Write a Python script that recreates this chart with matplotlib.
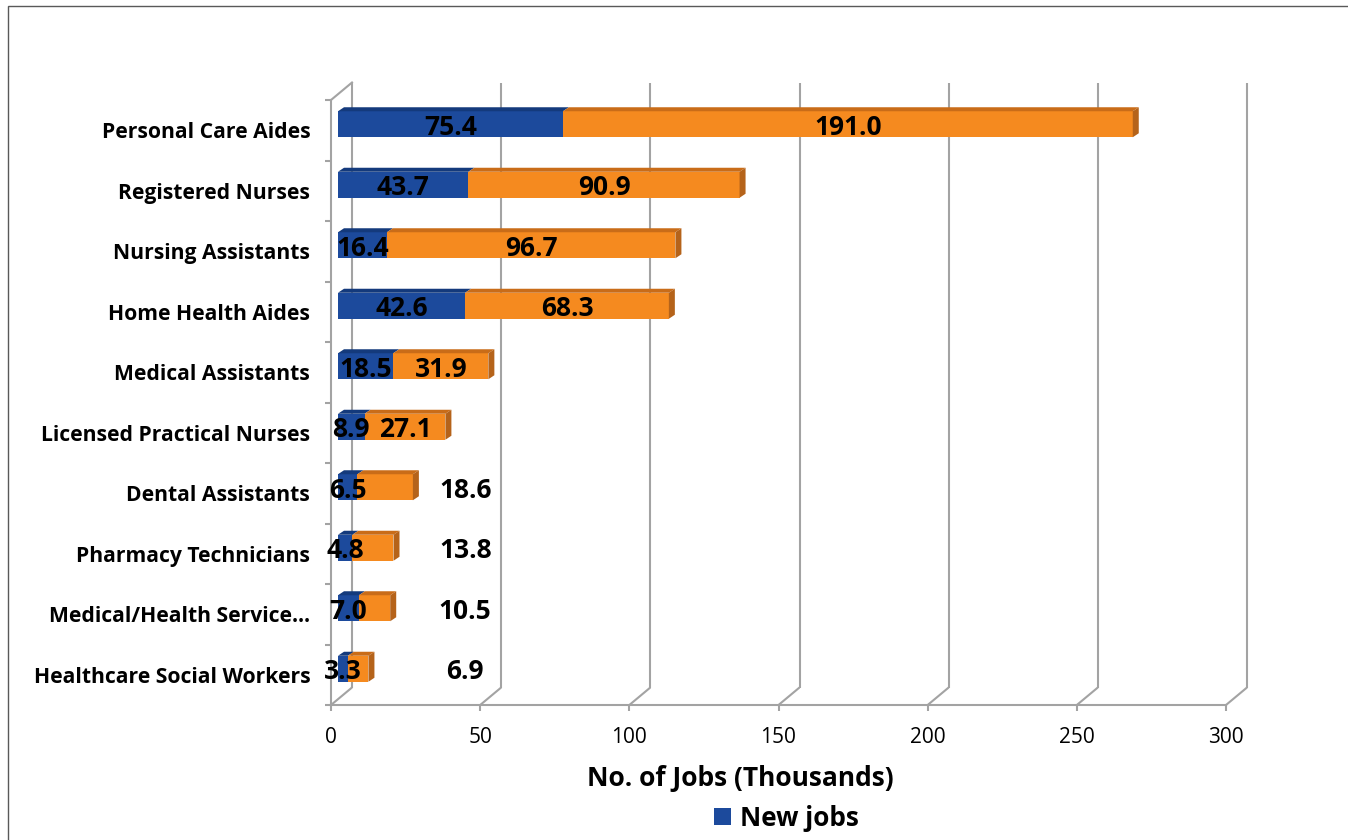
import matplotlib
matplotlib.use("Agg")
import matplotlib.pyplot as plt
from matplotlib.patches import Polygon, Rectangle

# ---------------------------------------------------------------------------
# Data
# ---------------------------------------------------------------------------
categories = [
    "Personal Care Aides",
    "Registered Nurses",
    "Nursing Assistants",
    "Home Health Aides",
    "Medical Assistants",
    "Licensed Practical Nurses",
    "Dental Assistants",
    "Pharmacy Technicians",
    "Medical/Health Service\u2026",
    "Healthcare Social Workers",
]
new_jobs = [75.4, 43.7, 16.4, 42.6, 18.5, 8.9, 6.5, 4.8, 7.0, 3.3]
other_jobs = [191.0, 90.9, 96.7, 68.3, 31.9, 27.1, 18.6, 13.8, 10.5, 6.9]
x_ticks = [0, 50, 100, 150, 200, 250, 300]

# ---------------------------------------------------------------------------
# Style
# ---------------------------------------------------------------------------
W, H = 1348, 840
FONT = "Open Sans"
BLUE, BLUE_TOP = "#1C4A9C", "#143A7C"
ORANGE, ORANGE_TOP, ORANGE_SIDE = "#F58A1F", "#C96C18", "#B5631A"
GRID = "#A3A3A3"

plt.rcParams["font.family"] = [FONT, "DejaVu Sans"]

fig = plt.figure(figsize=(W / 100, H / 100), dpi=100)
ax = fig.add_axes([331 / W, 1 - 705 / H, 895 / W, 605 / H])
ax.set_xlim(0, 300)
ax.set_ylim(0, len(categories))

# pixel -> data conversions (fixed figure size)
ppx = 895 / 300
ppy = 605 / len(categories)


def px(v):
    return v / ppx


def py(v):
    return v / ppy


# 3D offsets in pixels
BACK_DX, BACK_DY = 21, 17.5   # back wall
BAR_DX, BAR_DY = 7, 6         # bar plane
DEP_DX, DEP_DY = 6, 4         # bar depth
BAR_H = 26

n = len(categories)
top = n

# back wall gridlines + floor diagonals
for x in x_ticks:
    bx = x + px(BACK_DX)
    ax.plot([x, bx], [0, py(BACK_DY)], color=GRID, lw=1.5, zorder=1, clip_on=False,
            solid_capstyle="butt")
    ax.plot([bx, bx], [py(BACK_DY), top + py(BACK_DY)], color=GRID, lw=1.5, zorder=1,
            clip_on=False, solid_capstyle="butt")
ax.plot([0, px(BACK_DX)], [top, top + py(BACK_DY)], color=GRID, lw=1.5, zorder=1,
        clip_on=False)

# bars
OUTSIDE_LABEL_X = 45
for i, (nv, ov) in enumerate(zip(new_jobs, other_jobs)):
    yc = (n - 0.5 - i) + py(BAR_DY)
    y0, y1 = yc - py(BAR_H / 2), yc + py(BAR_H / 2)
    x0 = px(BAR_DX)
    segs = [(x0, x0 + nv, BLUE, BLUE_TOP), (x0 + nv, x0 + nv + ov, ORANGE, ORANGE_TOP)]
    for a, b, face, topc in segs:
        ax.add_patch(Rectangle((a, y0), b - a, y1 - y0, facecolor=face,
                               edgecolor="none", zorder=3))
        ax.add_patch(Polygon([(a, y1), (b, y1), (b + px(DEP_DX), y1 + py(DEP_DY)),
                              (a + px(DEP_DX), y1 + py(DEP_DY))],
                             closed=True, facecolor=topc, edgecolor="none", zorder=3))
    xe = x0 + nv + ov
    ax.add_patch(Polygon([(xe, y0), (xe, y1), (xe + px(DEP_DX), y1 + py(DEP_DY)),
                          (xe + px(DEP_DX), y0 + py(DEP_DY))],
                         closed=True, facecolor=ORANGE_SIDE, edgecolor="none", zorder=3))

    ty = yc - py(3)
    ax.text(x0 + nv / 2, ty, f"{nv:.1f}", ha="center", va="center",
            fontsize=19, fontweight="bold", color="black", zorder=5)
    ox = x0 + nv + ov / 2 if ov >= 25 else OUTSIDE_LABEL_X
    ax.text(ox, ty, f"{ov:.1f}", ha="center", va="center",
            fontsize=19, fontweight="bold", color="black", zorder=5)

# axes, ticks, spines
for s in ["top", "right"]:
    ax.spines[s].set_visible(False)
for s in ["left", "bottom"]:
    ax.spines[s].set_color(GRID)
    ax.spines[s].set_linewidth(1.5)
    ax.spines[s].set_zorder(2)

ax.set_xticks(x_ticks)
ax.set_xticklabels([str(t) for t in x_ticks])
ax.tick_params(axis="x", length=4.5, width=1.5, color=GRID, labelsize=15, pad=11)

centers = [n - 0.5 - i for i in range(n)]
ax.set_yticks(centers)
ax.set_yticklabels(categories, fontsize=15.2, fontweight="bold")
ax.tick_params(axis="y", which="major", length=0, pad=15)
ax.set_yticks(range(n + 1), minor=True)
ax.tick_params(axis="y", which="minor", length=4.5, width=1.5, color=GRID)

# title and legend
fig.text(740 / W, 1 - 778 / H, "No. of Jobs (Thousands)", ha="center", va="center",
         fontsize=19, fontweight="bold")
handle = Rectangle((0, 0), 1, 1, facecolor=BLUE, edgecolor="none")
fig.legend([handle], ["New jobs"], loc="center", bbox_to_anchor=(786 / W, 1 - 818 / H),
           frameon=False, borderpad=0, handlelength=0.68, handleheight=0.64,
           handletextpad=0.32, prop={"size": 18.8, "weight": "bold"})

# outer frame
fig.patches.append(Rectangle((8 / W, -0.1), 1.2, 1.1 - 6 / H, transform=fig.transFigure,
                             fill=False, edgecolor="#595959", lw=1))

fig.savefig("out.png", dpi=100)
